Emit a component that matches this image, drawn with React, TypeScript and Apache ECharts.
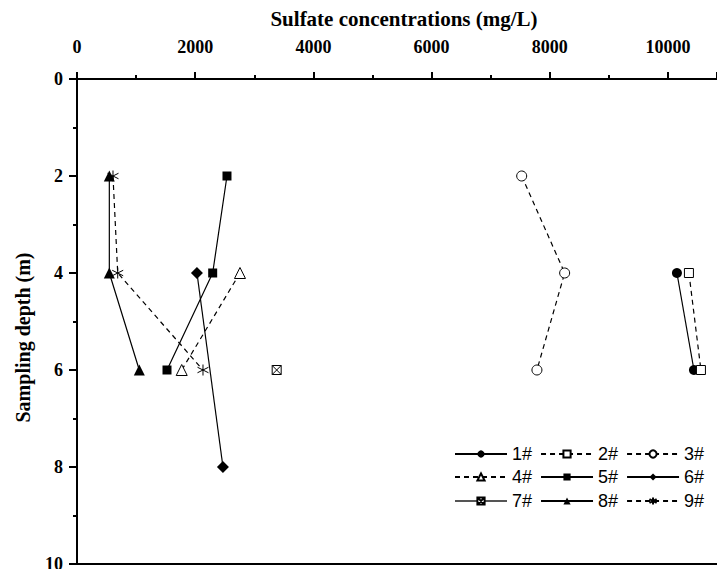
import React, { useEffect, useRef } from "react";
import * as echarts from "echarts";

const seriesNames = ["1#", "2#", "3#", "4#", "5#", "6#", "7#", "8#", "9#"];
const depths1 = [4, 6];
const conc1 = [10152, 10440];
const depths2 = [4, 6];
const conc2 = [10355, 10558];
const depths3 = [2, 4, 6];
const conc3 = [7525, 8252, 7783];
const depths4 = [4, 6];
const conc4 = [2758, 1772];
const depths5 = [2, 4, 6];
const conc5 = [2538, 2296, 1523];
const depths6 = [4, 8];
const conc6 = [2030, 2470];
const depths7 = [6];
const conc7 = [3379];
const depths8 = [2, 4, 6];
const conc8 = [547, 547, 1054];
const depths9 = [2, 4, 6];
const conc9 = [609, 689, 2132];

const xTicks = [0, 2000, 4000, 6000, 8000, 10000];
const yTicks = [0, 2, 4, 6, 8, 10];

const SQUARE_X = "path://M0,0H10V10H0Z M0,0L10,10 M10,0L0,10";
const ASTERISK = "path://M5,0V10 M0.7,2.5L9.3,7.5 M9.3,2.5L0.7,7.5";

const pair = (c: number[], d: number[]) => c.map((v, i) => [v, d[i]]);

export default function App() {
  const ref = useRef<HTMLDivElement>(null);
  useEffect(() => {
    if (!ref.current) return;
    const chart = echarts.init(ref.current, undefined, { renderer: "svg" });
    const serif = "'Times New Roman', 'Liberation Serif', serif";
    const sans = "Arial, 'Liberation Sans', sans-serif";
    const mk = (
      name: string,
      data: number[][],
      symbol: string,
      size: number,
      filled: boolean,
      dashed: boolean,
      lineColor = "#000"
    ) => ({
      name,
      type: "line",
      xAxisIndex: 0,
      yAxisIndex: 0,
      data,
      symbol,
      symbolSize: size,
      showSymbol: true,
      itemStyle: filled
        ? { color: "#000", borderColor: "#000", borderWidth: 0 }
        : { color: symbol === ASTERISK ? "none" : "#fff", borderColor: "#000", borderWidth: 1 },
      lineStyle: { color: lineColor, width: 1.2, type: dashed ? [5, 4] : "solid" },
      z: 3,
    });
    const series = [
      mk(seriesNames[0], pair(conc1, depths1), "circle", 10, true, false),
      mk(seriesNames[1], pair(conc2, depths2), "rect", 9, false, true),
      mk(seriesNames[2], pair(conc3, depths3), "circle", 10, false, true),
      mk(seriesNames[3], pair(conc4, depths4), "triangle", 11, false, true),
      mk(seriesNames[4], pair(conc5, depths5), "rect", 9, true, false),
      mk(seriesNames[5], pair(conc6, depths6), "diamond", 12, true, false),
      mk(seriesNames[6], pair(conc7, depths7), SQUARE_X, 9, false, false, "#555"),
      mk(seriesNames[7], pair(conc8, depths8), "triangle", 11, true, false),
      mk(seriesNames[8], pair(conc9, depths9), ASTERISK, 11, false, true),
    ];
    const legendBase = {
      orient: "horizontal",
      left: 449,
      itemWidth: 52,
      itemHeight: 9,
      itemGap: 8,
      selectedMode: false,
      textStyle: { fontFamily: sans, fontSize: 18, color: "#000" },
    };
    const axisLineStyle = { color: "#000", width: 2 };
    chart.setOption({
      animation: false,
      backgroundColor: "#fff",
      grid: { left: 77, top: 79, right: 0, bottom: 5, show: false, outerBoundsMode: "none", containLabel: false },
      legend: [
        { ...legendBase, top: 440, data: seriesNames.slice(0, 3) },
        { ...legendBase, top: 463, data: seriesNames.slice(3, 6) },
        { ...legendBase, top: 487, data: seriesNames.slice(6, 9) },
      ],
      xAxis: [
        {
          type: "value",
          position: "top",
          min: 0,
          max: 10830,
          interval: 2000,
          name: "Sulfate concentrations (mg/L)",
          nameLocation: "middle",
          nameGap: 50,
          nameTextStyle: { fontFamily: serif, fontWeight: "bold", fontSize: 21, color: "#000", padding: [0, 0, 0, 14] },
          axisLine: { show: true, onZero: false, lineStyle: axisLineStyle },
          axisTick: { show: true, inside: false, length: 7, lineStyle: axisLineStyle },
          minorTick: { show: true, splitNumber: 2, length: 4, lineStyle: axisLineStyle },
          splitLine: { show: false },
          axisLabel: {
            margin: 23,
            fontFamily: serif,
            fontWeight: "bold",
            fontSize: 18,
            color: "#000",
            showMaxLabel: false,
            formatter: (v: number) => (xTicks.includes(v) ? String(v) : ""),
          },
        },
        {
          type: "value",
          position: "bottom",
          min: 0,
          max: 10830,
          axisLine: { show: true, onZero: false, lineStyle: axisLineStyle },
          axisTick: { show: false },
          axisLabel: { show: false },
          splitLine: { show: false },
        },
      ],
      yAxis: {
        type: "value",
        inverse: true,
        min: 0,
        max: 10,
        interval: 2,
        name: "Sampling depth (m)",
        nameLocation: "middle",
        nameGap: 44,
        nameRotate: 90,
        nameTextStyle: { fontFamily: serif, fontWeight: "bold", fontSize: 20, color: "#000", padding: [0, 32, 0, 0] },
        axisLine: { show: true, onZero: false, lineStyle: axisLineStyle },
        axisTick: { show: true, inside: false, length: 8, lineStyle: axisLineStyle },
        minorTick: { show: true, splitNumber: 2, length: 4, lineStyle: axisLineStyle },
        splitLine: { show: false },
        axisLabel: {
          margin: 14,
          fontFamily: serif,
          fontWeight: "bold",
          fontSize: 18,
          color: "#000",
          formatter: (v: number) => (yTicks.includes(v) ? String(v) : ""),
        },
      },
      series,
    });
    return () => chart.dispose();
  }, []);
  return (
    <div
      ref={ref}
      style={{ position: "fixed", left: 0, top: 0, width: 717, height: 569 }}
    />
  );
}
